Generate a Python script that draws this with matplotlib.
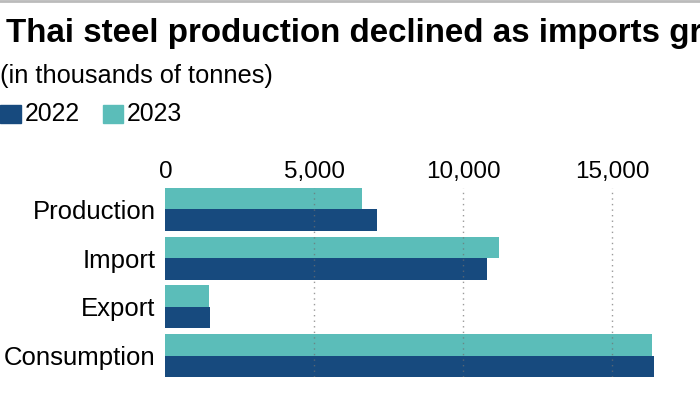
import matplotlib.pyplot as plt
import numpy as np

plt.rcParams['font.family'] = ['Liberation Sans', 'DejaVu Sans']

categories = ['Production', 'Import', 'Export', 'Consumption']
values_2022 = [7100, 10800, 1500, 16400]
values_2023 = [6600, 11200, 1480, 16330]
ticks = [0, 5000, 10000, 15000]

c2022 = '#174a7e'
c2023 = '#5bbdb9'

fig = plt.figure(figsize=(7, 3.94), dpi=100)
ax = fig.add_axes([0.2363, 0.0431, 0.7017, 0.4797])

y = np.arange(len(categories))
h = 0.44
ax.barh(y - h / 2, values_2023, height=h, color=c2023, zorder=1)
ax.barh(y + h / 2, values_2022, height=h, color=c2022, zorder=1)

ax.set_ylim(len(categories) - 1 + h, -h)
ax.set_xlim(0, 16500)
ax.set_yticks(y)
ax.set_yticklabels(categories, fontsize=18.5)
ax.set_xticks(ticks)
ax.set_xticklabels([f'{t:,}' for t in ticks], fontsize=17.5)
ax.xaxis.tick_top()
ax.tick_params(axis='both', length=0)
ax.tick_params(axis='x', pad=3.5)
ax.tick_params(axis='y', pad=7)
for s in ax.spines.values():
    s.set_visible(False)
for t in ticks[1:]:
    ax.axvline(t, color='#6f6f6f', linestyle=(0, (1, 3)), linewidth=1, alpha=0.7, zorder=2)

# header
fig.add_artist(plt.Line2D([0, 1], [0.997, 0.997], color='#bbbbbb', linewidth=2))
fig.text(0.0086, 1 - 42.3 / 394, 'Thai steel production declined as imports grew',
         fontsize=23.9, fontweight='bold', va='baseline')
fig.text(0.0, 1 - 83 / 394, '(in thousands of tonnes)', fontsize=18.3, va='baseline')
ly = 1 - 114 / 394
sq_h = 18 / 394
fig.patches.append(plt.Rectangle((0.0, ly - sq_h / 2), 21 / 700, sq_h, color=c2022,
                                 transform=fig.transFigure, figure=fig))
fig.text(25 / 700, ly, '2022', fontsize=17.8, va='center')
fig.patches.append(plt.Rectangle((103 / 700, ly - sq_h / 2), 20 / 700, sq_h, color=c2023,
                                 transform=fig.transFigure, figure=fig))
fig.text(127 / 700, ly, '2023', fontsize=17.8, va='center')

fig.savefig('out.png', dpi=100)
